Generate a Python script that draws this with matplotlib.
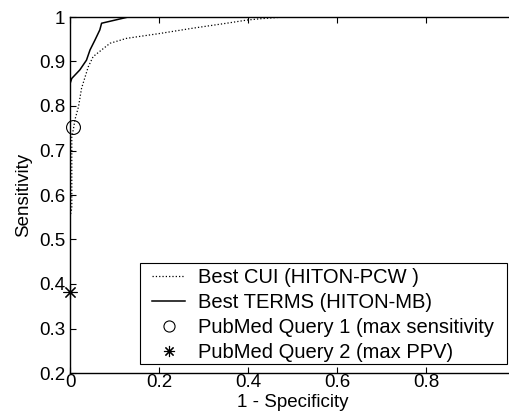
import numpy as np
import matplotlib
matplotlib.use("Agg")
import matplotlib.pyplot as plt
from matplotlib.patches import Rectangle

plt.rcParams['font.family'] = ['Liberation Sans', 'DejaVu Sans']

# ROC curve points
cui_fpr = [0.0, 0.0, 0.004, 0.004, 0.008, 0.011, 0.019, 0.026, 0.041, 0.052,
           0.09, 0.127, 0.202, 0.277, 0.352, 0.397, 0.427, 0.48, 1.0]
cui_tpr = [0.0, 0.55, 0.57, 0.73, 0.75, 0.769, 0.798, 0.84, 0.888, 0.911,
           0.941, 0.952, 0.963, 0.975, 0.986, 0.993, 0.996, 1.0, 1.0]

terms_fpr = [0.0, 0.0, 0.004, 0.022, 0.037, 0.045, 0.056, 0.067, 0.071, 0.131, 1.0]
terms_tpr = [0.0, 0.85, 0.862, 0.881, 0.903, 0.926, 0.948, 0.971, 0.986, 1.0, 1.0]

q1 = (0.006, 0.752)
q2 = (0.0, 0.382)

labels = ["Best CUI (HITON-PCW )", "Best TERMS (HITON-MB)",
          "PubMed Query 1 (max sensitivity", "PubMed Query 2 (max PPV)"]

fig = plt.figure(figsize=(5.1, 4.15), dpi=100)
ax = fig.add_axes([70/510, 42/415, 445/510, 356/415])

ax.plot(cui_fpr, cui_tpr, color="black", linestyle=":", linewidth=0.9, label=labels[0])
ax.plot(terms_fpr, terms_tpr, color="black", linestyle="-", linewidth=1.1, label=labels[1])
ax.plot([q1[0]], [q1[1]], "o", markerfacecolor="none", markeredgecolor="black",
        markersize=10, markeredgewidth=0.8, linestyle="none", label=labels[2], clip_on=False)
ax.plot([q2[0]], [q2[1]], marker=(8, 2, 0), color="black", markersize=10,
        markeredgewidth=0.8, linestyle="none", label=labels[3], clip_on=False)

ax.set_xlim(0, 1)
ax.set_ylim(0.2, 1)
ax.set_xticks([0, 0.2, 0.4, 0.6, 0.8])
ax.set_xticklabels(["0", "0.2", "0.4", "0.6", "0.8"])
ax.set_yticks([0.2, 0.3, 0.4, 0.5, 0.6, 0.7, 0.8, 0.9, 1.0])
ax.set_yticklabels(["0.2", "0.3", "0.4", "0.5", "0.6", "0.7", "0.8", "0.9", "1"])
ax.tick_params(direction="in", top=True, right=True, length=4, width=0.8,
               labelsize=13.5)
ax.tick_params(axis="y", pad=3.5)
ax.tick_params(axis="x", pad=1)
for s in ax.spines.values():
    s.set_linewidth(1.0)

ax.set_xlabel("1 - Specificity", fontsize=13.5, labelpad=2)
ax.set_ylabel("Sensitivity", fontsize=13.5, labelpad=5)

# legend box drawn separately so the handles can sit further in
box = Rectangle((140/510, 51/415), 367/510, 101/415, transform=fig.transFigure,
                facecolor="white", edgecolor="black", linewidth=0.8,
                zorder=4, clip_on=False)
ax.add_patch(box)

leg = ax.legend(loc="upper left", bbox_to_anchor=(149/510, 150/415),
                bbox_transform=fig.transFigure, borderaxespad=0,
                fontsize=14.5, frameon=False,
                handlelength=1.64, handletextpad=0.65, labelspacing=0.3,
                borderpad=0.15, markerscale=0.8)
leg.set_zorder(5)

fig.savefig("out.png", dpi=100)
